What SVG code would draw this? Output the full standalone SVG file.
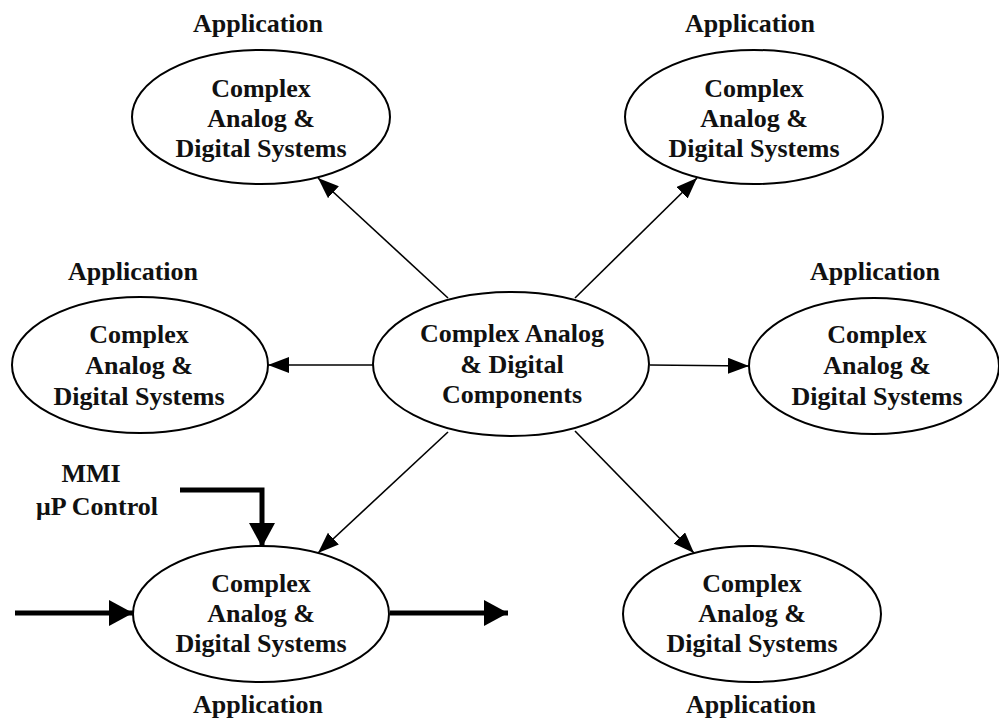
<svg xmlns="http://www.w3.org/2000/svg" width="999" height="721" viewBox="0 0 999 721">
  <style>
    .node { fill: #ffffff; stroke: #000000; stroke-width: 2; }
    .lbl { font-family: "Liberation Serif", "Times New Roman", serif; font-weight: bold; font-size: 26px; fill: #111111; text-anchor: middle; }
    .thin { fill: none; stroke: #000000; stroke-width: 1.6; }
    .thick { fill: none; stroke: #000000; stroke-width: 5; }
  </style>
  <defs>
    <marker id="headThin" markerUnits="userSpaceOnUse" markerWidth="22" markerHeight="18" refX="21" refY="8" orient="auto">
      <path d="M0,0 L21,8 L0,16 z" fill="#000000"/>
    </marker>
    <marker id="headThick" markerUnits="userSpaceOnUse" markerWidth="26" markerHeight="28" refX="24" refY="13" orient="auto">
      <path d="M0,0 L24,13 L0,26 z" fill="#000000"/>
    </marker>
  </defs>
  <rect width="999" height="721" fill="#ffffff"/>

  <g id="connectors">
    <line class="thin" x1="448" y1="298" x2="318" y2="178" marker-end="url(#headThin)"/>
    <line class="thin" x1="575" y1="298" x2="697" y2="178" marker-end="url(#headThin)"/>
    <line class="thin" x1="373" y1="365" x2="268" y2="365" marker-end="url(#headThin)"/>
    <line class="thin" x1="650" y1="365" x2="749" y2="366" marker-end="url(#headThin)"/>
    <line class="thin" x1="448" y1="432" x2="318" y2="553" marker-end="url(#headThin)"/>
    <line class="thin" x1="575" y1="431" x2="694" y2="553" marker-end="url(#headThin)"/>
    <path class="thick" d="M180,490 H262 V547" marker-end="url(#headThick)"/>
    <path class="thick" d="M15,613 H133" marker-end="url(#headThick)"/>
    <path class="thick" d="M390,613 H508" marker-end="url(#headThick)"/>
  </g>

  <g id="center">
    <ellipse class="node" cx="511" cy="364" rx="138" ry="72"/>
    <text class="lbl" x="512" y="342">Complex Analog</text>
    <text class="lbl" x="512" y="373">&amp; Digital</text>
    <text class="lbl" x="512" y="403">Components</text>
  </g>

  <g id="app-top-left">
    <text class="lbl" x="258" y="32">Application</text>
    <ellipse class="node" cx="261" cy="117" rx="129" ry="67"/>
    <text class="lbl" x="261" y="97">Complex</text>
    <text class="lbl" x="261" y="127">Analog &amp;</text>
    <text class="lbl" x="261" y="157">Digital Systems</text>
  </g>

  <g id="app-top-right">
    <text class="lbl" x="750" y="32">Application</text>
    <ellipse class="node" cx="754" cy="117" rx="129" ry="67"/>
    <text class="lbl" x="754" y="97">Complex</text>
    <text class="lbl" x="754" y="127">Analog &amp;</text>
    <text class="lbl" x="754" y="157">Digital Systems</text>
  </g>

  <g id="app-left">
    <text class="lbl" x="133" y="280">Application</text>
    <ellipse class="node" cx="140" cy="365" rx="128" ry="68"/>
    <text class="lbl" x="139" y="343">Complex</text>
    <text class="lbl" x="139" y="374">Analog &amp;</text>
    <text class="lbl" x="139" y="405">Digital Systems</text>
  </g>

  <g id="app-right">
    <text class="lbl" x="875" y="280">Application</text>
    <ellipse class="node" cx="874" cy="366" rx="125" ry="68"/>
    <text class="lbl" x="877" y="343">Complex</text>
    <text class="lbl" x="877" y="374">Analog &amp;</text>
    <text class="lbl" x="877" y="405">Digital Systems</text>
  </g>

  <g id="app-bottom-left">
    <ellipse class="node" cx="261" cy="614" rx="128" ry="68"/>
    <text class="lbl" x="261" y="592">Complex</text>
    <text class="lbl" x="261" y="622">Analog &amp;</text>
    <text class="lbl" x="261" y="652">Digital Systems</text>
    <text class="lbl" x="258" y="713">Application</text>
  </g>

  <g id="app-bottom-right">
    <ellipse class="node" cx="752" cy="614" rx="129" ry="68"/>
    <text class="lbl" x="752" y="592">Complex</text>
    <text class="lbl" x="752" y="622">Analog &amp;</text>
    <text class="lbl" x="752" y="652">Digital Systems</text>
    <text class="lbl" x="751" y="713">Application</text>
  </g>

  <g id="control-input">
    <text class="lbl" x="91" y="482">MMI</text>
    <text class="lbl" x="97" y="515">μP Control</text>
  </g>
</svg>
